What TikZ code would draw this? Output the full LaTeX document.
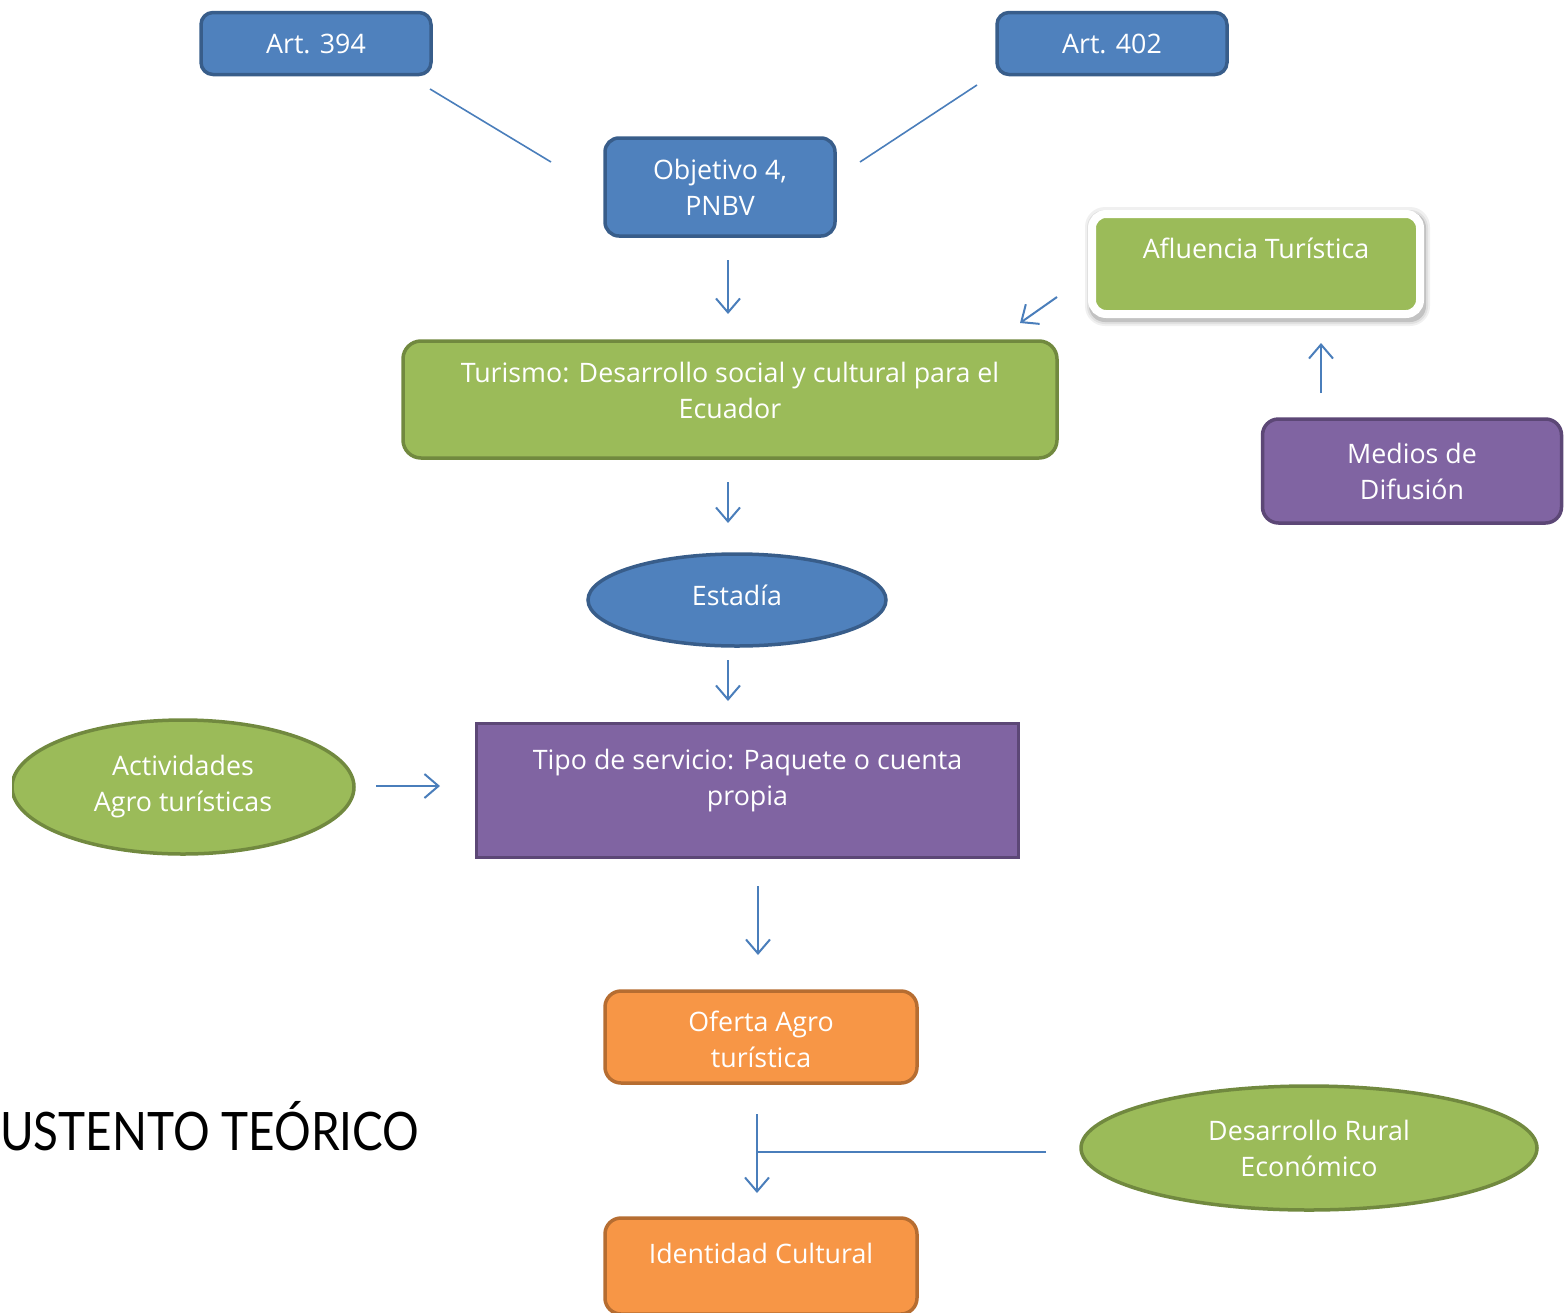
\documentclass[tikz,border=0pt]{standalone}
\usepackage{fontspec}
\setmainfont{Open Sans}
\newfontfamily\titlefont{Lato}
\usetikzlibrary{shapes.geometric,arrows.meta,backgrounds}
\definecolor{bfill}{HTML}{4F81BD}
\definecolor{bdraw}{HTML}{385D8A}
\definecolor{gfill}{HTML}{9BBB59}
\definecolor{gdraw}{HTML}{71893F}
\definecolor{pfill}{HTML}{8064A2}
\definecolor{pdraw}{HTML}{5C4776}
\definecolor{ofill}{HTML}{F79646}
\definecolor{odraw}{HTML}{B66D31}
\definecolor{acol}{HTML}{4A7EBB}
\newcommand{\lblfont}{\fontsize{26.8}{36}\selectfont}
\begin{document}
\begin{tikzpicture}[x=1pt,y=-1pt,
  box/.style={rectangle, rounded corners=12pt, line width=3.5pt, text=white, align=center, font=\lblfont, inner sep=0pt},
  bluebox/.style={box, fill=bfill, draw=bdraw},
  greenbox/.style={box, fill=gfill, draw=gdraw},
  purplebox/.style={box, fill=pfill, draw=pdraw},
  orangebox/.style={box, fill=ofill, draw=odraw},
  oval/.style={ellipse, line width=3.5pt, text=white, align=center, font=\lblfont, inner sep=0pt},
  arr/.style={draw=acol, line width=2pt, -{Straight Barb[length=14pt,width=24pt]}},
  plainline/.style={draw=acol, line width=1.6pt}
]
\useasboundingbox (0,0) rectangle (1566,1312);
\clip (0,0) rectangle (1566,1312);

% top boxes
\node[bluebox, minimum width=230pt, minimum height=62pt] (a394) at (316,43.5) {Art. 394};
\node[bluebox, minimum width=230pt, minimum height=62pt] (a402) at (1112,43.5) {Art. 402};
\node[bluebox, minimum width=230pt, minimum height=98pt, rounded corners=14pt] (obj) at (720,187) {Objetivo 4,\\PNBV};

\coordinate (l1a) at (430,89);  \coordinate (l1b) at (551,162);
\coordinate (l2a) at (977,85);  \coordinate (l2b) at (860,162);
\draw[plainline] (l1a) -- (l1b);
\draw[plainline] (l2a) -- (l2b);

% Turismo
\node[greenbox, minimum width=654pt, minimum height=117pt, rounded corners=18pt] (tur) at (730,399.5) {Turismo: Desarrollo social y cultural para el\\Ecuador\\[-18pt]\mbox{}};

% Afluencia
\node[rectangle, rounded corners=14pt, fill=gfill, draw=white, line width=8pt, minimum width=328pt, minimum height=100pt, text=white, align=center, font=\lblfont, inner sep=0pt] (afl) at (1256,264) {Afluencia Turística\\[-4pt]\mbox{}};
\begin{scope}[on background layer]
\fill[black!6, rounded corners=20pt] ([shift={(-3,-3)}]afl.north west) rectangle ([shift={(6,8)}]afl.south east);
\fill[black!12, rounded corners=18pt] ([shift={(-1,0)}]afl.north west) rectangle ([shift={(4,6)}]afl.south east);
\fill[black!24, rounded corners=16pt] ([shift={(1,2)}]afl.north west) rectangle ([shift={(2,4)}]afl.south east);
\end{scope}

% Medios
\node[purplebox, minimum width=299pt, minimum height=104pt, rounded corners=16pt] (med) at (1412,471) {Medios de\\Difusión};

\coordinate (a1s) at (728,260); \coordinate (a1e) at (728,314);
\draw[arr] (a1s) -- (a1e);
\coordinate (a2s) at (1057,297); \coordinate (a2e) at (1020,323);
\draw[arr] (a2s) -- (a2e);
\coordinate (a3s) at (1321,393); \coordinate (a3e) at (1321,343);
\draw[arr] (a3s) -- (a3e);
\coordinate (a4s) at (728,482); \coordinate (a4e) at (728,523);
\draw[arr] (a4s) -- (a4e);

% Estadia
\node[oval, fill=bfill, draw=bdraw, minimum width=298pt, minimum height=92pt] (est) at (737,600) {Estadía\\[-26pt]\mbox{}};

\coordinate (a5s) at (728,660); \coordinate (a5e) at (728,701);
\draw[arr] (a5s) -- (a5e);

% Tipo de servicio
\node[rectangle, fill=pfill, draw=pdraw, line width=3.5pt, minimum width=542pt, minimum height=134pt, text=white, align=center, font=\lblfont, inner sep=0pt] (tipo) at (747.5,790.5) {Tipo de servicio: Paquete o cuenta\\propia\\[-10pt]\mbox{}};

% Actividades
\begin{scope}
\clip (12,600) rectangle (500,900);
\node[oval, fill=gfill, draw=gdraw, minimum width=342pt, minimum height=134pt] (act) at (183,787) {Actividades\\Agro turísticas};
\end{scope}
\coordinate (a6s) at (376,786); \coordinate (a6e) at (440,786);
\draw[arr] (a6s) -- (a6e);

\coordinate (a7s) at (758,886); \coordinate (a7e) at (758,955);
\draw[arr] (a7s) -- (a7e);

% Oferta
\node[orangebox, minimum width=312pt, minimum height=92pt, rounded corners=16pt] (ofe) at (761,1037) {\rule{0pt}{26pt}Oferta Agro\\turística};

% Desarrollo Rural
\node[oval, fill=gfill, draw=gdraw, minimum width=456pt, minimum height=124pt] (des) at (1309,1148) {Desarrollo Rural\\Económico};

\coordinate (a8s) at (757,1114); \coordinate (a8e) at (757,1193);
\draw[arr] (a8s) -- (a8e);
\coordinate (jn) at (757,1152); \coordinate (dl) at (1046,1152);
\draw[plainline] (dl) -- (jn);

% Identidad
\node[orangebox, minimum width=312pt, minimum height=96pt, rounded corners=16pt] (ide) at (761,1266) {Identidad Cultural\\[-10pt]\mbox{}};

% title
\node[anchor=base west, font=\titlefont\fontsize{53}{53}\selectfont, inner sep=0pt] (tit) at (0,1150) {\scalebox{0.865}[1]{USTENTO TEÓRICO}};
\end{tikzpicture}
\end{document}
